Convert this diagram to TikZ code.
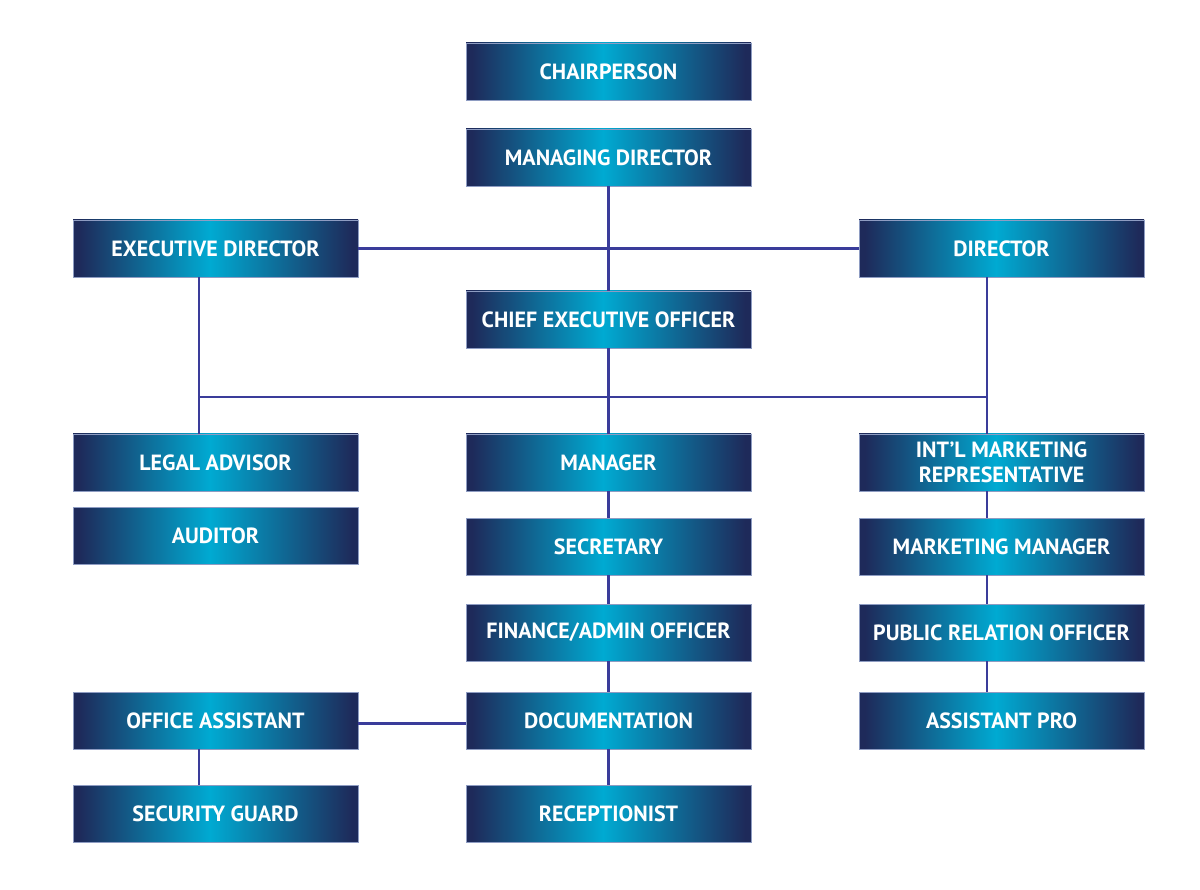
\documentclass[tikz,border=0pt]{standalone}
\usepackage{fontspec}
\setmainfont{PT Sans}
\definecolor{navy}{HTML}{1E2A5A}
\definecolor{cyanb}{HTML}{00AAD2}
\definecolor{linkc}{HTML}{3A3C9A}
\definecolor{edgec}{HTML}{8E9CC2}
\pgfdeclarehorizontalshading{boxshade}{100bp}{color(0bp)=(navy); color(26bp)=(navy); color(49bp)=(cyanb); color(74bp)=(navy); color(100bp)=(navy)}
\tikzset{
  box/.style={shading=boxshade, draw=edgec, line width=0.5pt, minimum width=285pt, minimum height=57pt, inner sep=0pt,
    text=white, font=\bfseries\fontsize{22}{25}\selectfont, align=center},
  link/.style={draw=linkc, line width=2.2pt}
}
\begin{document}
\begin{tikzpicture}[x=1pt,y=-1pt]
\useasboundingbox (0,0) rectangle (1200,890);
\node[box] (chair) at (608.5,71.5) {CHAIRPERSON};
\node[box] (md) at (608.5,157.5) {MANAGING DIRECTOR};
\node[box] (ed) at (215.5,248.5) {EXECUTIVE DIRECTOR};
\node[box] (dir) at (1001.5,248.5) {DIRECTOR};
\node[box] (ceo) at (608.5,319.5) {CHIEF EXECUTIVE OFFICER};
\node[box] (legal) at (215.5,462.5) {LEGAL ADVISOR};
\node[box] (aud) at (215.5,535.5) {AUDITOR};
\node[box] (mgr) at (608.5,462.5) {MANAGER};
\node[box] (intl) at (1001.5,462.5) {INT’L MARKETING\\REPRESENTATIVE};
\node[box] (sec) at (608.5,546.5) {SECRETARY};
\node[box] (mm) at (1001.5,546.5) {MARKETING MANAGER};
\node[box] (fin) at (608.5,632.5) {FINANCE/ADMIN OFFICER};
\node[box] (pro) at (1001.5,632.5) {PUBLIC RELATION OFFICER};
\node[box] (oa) at (215.5,720.5) {OFFICE ASSISTANT};
\node[box] (doc) at (608.5,720.5) {DOCUMENTATION};
\node[box] (apro) at (1001.5,720.5) {ASSISTANT PRO};
\node[box] (sg) at (215.5,813.5) {SECURITY GUARD};
\node[box] (rec) at (608.5,813.5) {RECEPTIONIST};
\coordinate (jl) at (199,397);
\coordinate (jr) at (987,397);
% connectors
\draw[link] (md.south) -- (ceo.north);
\draw[link] (ed.east) -- (dir.west);
\draw[link] (ed.south -| jl) -- (legal.north -| jl);
\draw[link] (dir.south -| jr) -- (intl.north -| jr);
\draw[link] (jl) -- (jr);
\draw[link] (ceo.south) -- (mgr.north);
\draw[link] (mgr.south) -- (sec.north);
\draw[link] (sec.south) -- (fin.north);
\draw[link] (fin.south) -- (doc.north);
\draw[link] (doc.south) -- (rec.north);
\draw[link] (intl.south -| jr) -- (mm.north -| jr);
\draw[link] (mm.south -| jr) -- (pro.north -| jr);
\draw[link] (pro.south -| jr) -- (apro.north -| jr);
\draw[link] (oa.south -| jl) -- (sg.north -| jl);
\draw[link] ([yshift=-3pt]oa.east) -- ([yshift=-3pt]doc.west);
\end{tikzpicture}
\end{document}
